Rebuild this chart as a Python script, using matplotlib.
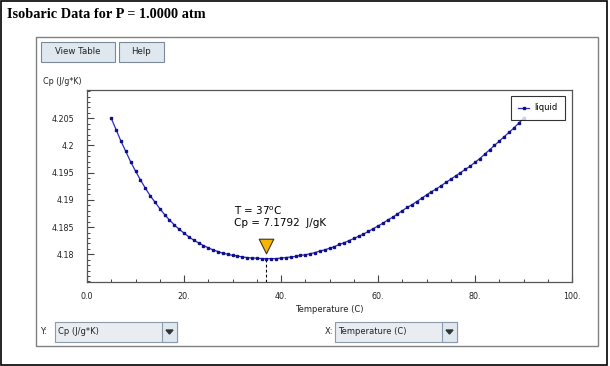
import numpy as np
import matplotlib.pyplot as plt
from matplotlib.patches import Rectangle, Polygon
from matplotlib.ticker import MultipleLocator, FixedLocator

# =========================
# Data
# =========================
temperature = list(range(5, 91))
cp_liquid = [
    4.2050, 4.2029, 4.2008, 4.1989, 4.1970, 4.1953, 4.1937, 4.1922, 4.1908, 4.1896,
    4.1884, 4.1873, 4.1863, 4.1854, 4.1846, 4.1839, 4.1832, 4.1826, 4.1821, 4.1816,
    4.1812, 4.1808, 4.1805, 4.1802, 4.1800, 4.1798, 4.1797, 4.1795, 4.1794, 4.1793,
    4.1793, 4.1792, 4.1792, 4.1792, 4.1792, 4.1793, 4.1794, 4.1795, 4.1796, 4.1798,
    4.1799, 4.1801, 4.1803, 4.1806, 4.1808, 4.1811, 4.1814, 4.1818, 4.1821, 4.1825,
    4.1829, 4.1833, 4.1837, 4.1842, 4.1847, 4.1852, 4.1857, 4.1863, 4.1868, 4.1874,
    4.1880, 4.1886, 4.1891, 4.1897, 4.1903, 4.1909, 4.1915, 4.1920, 4.1926, 4.1932,
    4.1938, 4.1944, 4.1950, 4.1956, 4.1962, 4.1969, 4.1976, 4.1984, 4.1992, 4.2000,
    4.2008, 4.2016, 4.2024, 4.2032, 4.2041, 4.2050,
]

x_ticks = [0, 20, 40, 60, 80, 100]
x_tick_labels = ["0.0", "20.", "40.", "60.", "80.", "100."]
y_ticks = [4.18, 4.185, 4.19, 4.195, 4.2, 4.205]
y_tick_labels = ["4.18", "4.185", "4.19", "4.195", "4.2", "4.205"]

marker_T = 37
marker_cp = 4.1792
marker_text = "T = 37$^{\\mathrm{o}}$C\nCp = 7.1792  J/gK"

W, H = 610, 366
fig = plt.figure(figsize=(W / 100, H / 100), dpi=100)
fig.patch.set_facecolor("white")


def fx(px):
    return px / W


def fy(py):
    return 1 - py / H


def box(x0, y0, x1, y1, **kw):
    r = Rectangle((fx(x0), fy(y1)), fx(x1) - fx(x0), fy(y0) - fy(y1),
                  transform=fig.transFigure, **kw)
    fig.add_artist(r)


# =========================
# Frame, title, panel
# =========================
box(1, 1, 607, 365, fill=False, edgecolor="black", linewidth=1.2)
fig.text(fx(7), fy(15), "Isobaric Data for P = 1.0000 atm", family="Liberation Serif",
         fontweight="bold", fontsize=10.3, va="center", ha="left")
box(36, 37, 598, 346, fill=False, edgecolor="#808080", linewidth=1.0)

# buttons
for x0, x1, label in [(41, 115, "View Table"), (119, 164, "Help")]:
    box(x0, 42, x1, 62, facecolor="#dfe7ef", edgecolor="#7a8a9a", linewidth=0.8)
    fig.text(fx((x0 + x1) / 2), fy(52), label, fontsize=6.2, ha="center", va="center",
             color="#222222")

fig.text(fx(43), fy(81), "Cp (J/g*K)", fontsize=5.8, ha="left", va="center", color="#222222")

# =========================
# Plot
# =========================
ax = fig.add_axes([fx(87), fy(282), fx(572) - fx(87), fy(90) - fy(282)])
ax.plot(temperature, cp_liquid, color="#2a2ac8", linewidth=0.9, marker="s",
        markersize=2.0, markerfacecolor="#10108a", markeredgecolor="#10108a",
        label="liquid", zorder=3)

ax.set_xlim(0, 100)
ax.set_ylim(4.1749, 4.2102)
ax.xaxis.set_major_locator(FixedLocator(x_ticks))
ax.set_xticklabels(x_tick_labels)
ax.xaxis.set_minor_locator(MultipleLocator(5))
ax.yaxis.set_major_locator(FixedLocator(y_ticks))
ax.set_yticklabels(y_tick_labels)
ax.yaxis.set_minor_locator(MultipleLocator(0.001))
ax.tick_params(which="both", direction="in", colors="#444444", labelsize=5.8,
               labelcolor="#222222")
ax.tick_params(which="major", length=5, width=0.8, pad=7)
ax.tick_params(which="minor", length=2.5, width=0.7)
ax.tick_params(axis="y", which="major", pad=9)
for s in ax.spines.values():
    s.set_color("#555555")
    s.set_linewidth(0.9)
ax.set_xlabel("Temperature (C)", fontsize=6, color="#222222", labelpad=3)

leg = ax.legend(loc="upper right", fontsize=6, frameon=True, fancybox=False,
                handlelength=1.3, handletextpad=0.6, borderpad=0.9, borderaxespad=0,
                bbox_to_anchor=(0.9856, 0.969))
leg.get_frame().set_edgecolor("black")
leg.get_frame().set_linewidth(0.8)

# selected point marker
ax.plot([marker_T, marker_T], [4.1749, marker_cp], linestyle=(0, (2.5, 2)),
        color="black", linewidth=0.8, zorder=2)
ax.scatter([marker_T], [marker_cp + 0.0024], marker="v", s=110, color="#f8b500",
           edgecolor="#333333", linewidth=0.8, zorder=4)
ax.text(30.3, 4.18695, marker_text, fontsize=7.5, ha="left", va="center",
        linespacing=1.1, color="black")

# =========================
# Bottom combo boxes
# =========================
for tag, lx, x0, x1, label in [("Y:", 43, 55, 177, "Cp (J/g*K)"),
                               ("X:", 329, 335, 457, "Temperature (C)")]:
    fig.text(fx(lx), fy(332), tag, fontsize=6, ha="center", va="center", color="#222222")
    box(x0, 322, x1, 342, facecolor="#e9edf2", edgecolor="#8a9aaa", linewidth=0.8)
    box(x1 - 15, 322, x1, 342, facecolor="#dfe7ef", edgecolor="#8a9aaa", linewidth=0.8)
    fig.add_artist(Polygon([[fx(x1 - 11), fy(330)], [fx(x1 - 4), fy(330)],
                            [fx(x1 - 7.5), fy(334)]], closed=True, transform=fig.transFigure,
                           color="#333333"))
    fig.text(fx(x0 + 3), fy(332), label, fontsize=6, ha="left", va="center",
             color="#222222")

fig.savefig("out.png", dpi=100)
